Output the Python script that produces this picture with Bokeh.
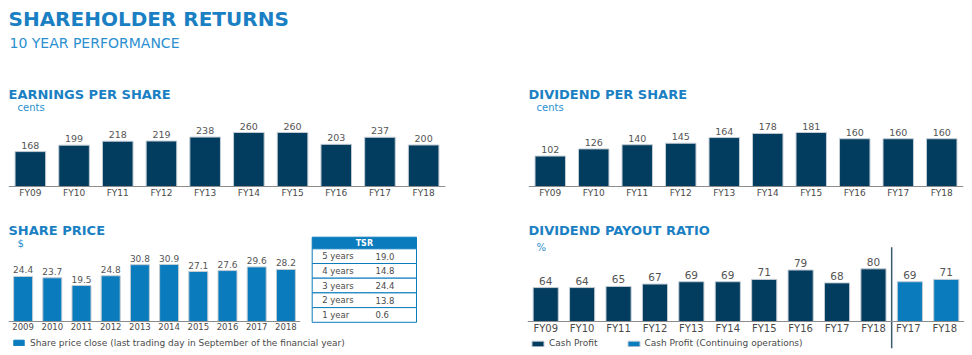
from bokeh.plotting import figure
from bokeh.models import ColumnDataSource, Range1d, FactorRange, LabelSet, Label, Legend, LegendItem
from bokeh.layouts import row, column
from bokeh.embed import file_html
from bokeh.resources import INLINE
from bokeh.core.properties import value

# ---------------- data ----------------
fy_years = ["FY09", "FY10", "FY11", "FY12", "FY13", "FY14", "FY15", "FY16", "FY17", "FY18"]
eps_cents = [168, 199, 218, 219, 238, 260, 260, 203, 237, 200]
dps_cents = [102, 126, 140, 145, 164, 178, 181, 160, 160, 160]
price_years = ["2009", "2010", "2011", "2012", "2013", "2014", "2015", "2016", "2017", "2018"]
share_price = [24.4, 23.7, 19.5, 24.8, 30.8, 30.9, 27.1, 27.6, 29.6, 28.2]
tsr_periods = ["5 years", "4 years", "3 years", "2 years", "1 year"]
tsr_values = [19.0, 14.8, 24.4, 13.8, 0.6]
payout_cash = [64, 64, 65, 67, 69, 69, 71, 79, 68, 80]
cont_years = ["FY17", "FY18"]
payout_cont = [69, 71]

# ---------------- style ----------------
FONT = "DejaVu Sans"
NAVY = "#023d60"
BLUE = "#0a7bbd"
TITLE_BLUE = "#1a7fc3"
SUB_BLUE = "#2b8fd0"
TEXT_GRAY = "#4a4a4a"
VALUE_GRAY = "#555555"
AXIS_GRAY = "#8c8c8c"
OUTLINE = "#c3ccd4"
SEP = "#3d5a6e"


def make_fig(w, h, x_range, y_range, ml=0, mr=0, xaxis=False):
    p = figure(width=w, height=h, x_range=x_range, y_range=y_range,
               output_backend="svg", toolbar_location=None, title=None,
               x_axis_location="below" if xaxis else None, y_axis_location=None,
               min_border=0, min_border_left=ml, min_border_right=mr,
               min_border_top=0, min_border_bottom=0)
    p.outline_line_color = None
    p.xgrid.grid_line_color = None
    p.ygrid.grid_line_color = None
    p.background_fill_color = "white"
    p.border_fill_color = "white"
    return p


def add_text(p, text, sx, sy, size, color, bold=False, align="left"):
    p.add_layout(Label(x=sx, y=sy, x_units="screen", y_units="screen", text=text,
                       text_font=FONT, text_font_size=f"{size}px", text_color=color,
                       text_font_style="bold" if bold else "normal",
                       text_align=align, text_baseline="alphabetic"))


def style_axis(p, base_value, size):
    ax = p.xaxis[0]
    ax.fixed_location = base_value
    ax.axis_line_color = AXIS_GRAY
    ax.axis_line_width = 1
    ax.major_tick_line_color = None
    ax.minor_tick_line_color = None
    ax.major_tick_in = 0
    ax.major_tick_out = 0
    ax.major_label_standoff = 1
    ax.major_label_text_font = FONT
    ax.major_label_text_font_size = f"{size}px"
    ax.major_label_text_color = TEXT_GRAY


def value_labels(p, src, size):
    p.add_layout(LabelSet(x="x", y="top", text="label", source=src, y_offset=3,
                          text_align="center", text_baseline="alphabetic",
                          text_font=value(FONT), text_font_size=f"{size}px",
                          text_color=VALUE_GRAY))


def bar_panel(w, h, factors, values, labels, color, ml, mr, px_per_unit, base_px,
              base_value, tick_size, value_size, width=0.7):
    yr = Range1d(base_value - base_px / px_per_unit, base_value + (h - base_px) / px_per_unit)
    p = make_fig(w, h, FactorRange(factors=factors), yr, ml, mr, xaxis=True)
    src = ColumnDataSource(dict(x=factors, top=values, label=labels))
    r = p.vbar(x="x", top="top", bottom=base_value, width=width, source=src,
               fill_color=color, line_color=OUTLINE, line_width=1)
    value_labels(p, src, value_size)
    style_axis(p, base_value, tick_size)
    return p, r


# ---------------- header ----------------
header = make_fig(972, 78, Range1d(0, 972), Range1d(0, 78))
add_text(header, "SHAREHOLDER RETURNS", 8, 60, 20, TITLE_BLUE, bold=True)
add_text(header, "10 YEAR PERFORMANCE", 9, 35.5, 14, SUB_BLUE)

# ---------------- EPS ----------------
eps_fig, _ = bar_panel(520, 122, fy_years, eps_cents, [str(v) for v in eps_cents], NAVY,
                       8, 75, 54 / 260, 14, 0, 9, 9.5)
add_text(eps_fig, "EARNINGS PER SHARE", 0, 106, 13, TITLE_BLUE, bold=True)
add_text(eps_fig, "cents", 9, 93, 10, SUB_BLUE)

# ---------------- DPS ----------------
dps_fig, _ = bar_panel(452, 122, fy_years, dps_cents, [str(v) for v in dps_cents], NAVY,
                       8, 9, 54 / 181, 14, 0, 9, 9.5)
add_text(dps_fig, "DIVIDEND PER SHARE", 0, 106, 13, TITLE_BLUE, bold=True)
add_text(dps_fig, "cents", 8, 93, 10, SUB_BLUE)

# ---------------- Share price ----------------
sp_fig, sp_r = bar_panel(305, 134, price_years, share_price, [f"{v:.1f}" for v in share_price],
                         BLUE, 8, 5, 57 / 30.9, 13, 0, 8.5, 9, width=0.65)
add_text(sp_fig, "SHARE PRICE", 0, 104, 13, TITLE_BLUE, bold=True)
add_text(sp_fig, "$", 9, 91.5, 10, SUB_BLUE)

# legend strip under share price (hidden swatch renderer only feeds the legend)
sp_leg = make_fig(520, 21, Range1d(0, 1), Range1d(0, 1))
swatch = sp_leg.vbar(x=[0.5], top=[0.5], width=0.65, fill_color=BLUE, line_color=BLUE)
swatch.visible = False
leg1 = Legend(items=[LegendItem(label="Share price close (last trading day in September of the financial year)",
                                renderers=[swatch])],
              location=(12, 7.5), orientation="horizontal", glyph_width=13, glyph_height=7,
              label_height=7, label_width=10, label_standoff=5, padding=0, margin=0, spacing=0,
              border_line_color=None, background_fill_alpha=0,
              inactive_fill_alpha=0,
              label_text_font=FONT, label_text_font_size="9px", label_text_color=TEXT_GRAY)
sp_leg.add_layout(leg1)

# ---------------- TSR table ----------------
tsr_fig = make_fig(215, 134, Range1d(0, 215), Range1d(0, 134))
tbl_left, tbl_right = 6.7, 111.0
hdr_top, hdr_h, row_h = 97.3, 11.6, 14.7
n_rows = len(tsr_periods)
row_tops = [hdr_top - hdr_h - i * row_h for i in range(n_rows)]
row_bots = [t - row_h for t in row_tops]
row_mid = [t - row_h / 2 for t in row_tops]
tsr_fig.quad(left=[tbl_left], right=[tbl_right], top=[hdr_top], bottom=[hdr_top - hdr_h],
             fill_color=BLUE, line_color=BLUE, line_width=1)
tsr_fig.quad(left=[tbl_left] * n_rows, right=[tbl_right] * n_rows, top=row_tops, bottom=row_bots,
             fill_color="white", line_color=BLUE, line_width=1)
tsr_fig.text(x=[(tbl_left + tbl_right) / 2], y=[hdr_top - hdr_h / 2], text=["TSR"],
             text_font=value(FONT), text_font_size="8px", text_font_style="bold",
             text_color="white", text_align="center", text_baseline="middle")
tsr_fig.text(x=[tbl_left + 10] * n_rows, y=row_mid, text=tsr_periods,
             text_font=value(FONT), text_font_size="8.5px", text_color=TEXT_GRAY,
             text_align="left", text_baseline="middle")
tsr_fig.text(x=[tbl_left + 63.3] * n_rows, y=row_mid, text=[f"{v:.1f}" for v in tsr_values],
             text_font=value(FONT), text_font_size="8.5px", text_color=TEXT_GRAY,
             text_align="left", text_baseline="middle")

# ---------------- Payout ratio ----------------
PO_K = 1.17          # px per percentage point
PO_BASE = 35         # value at the axis line
PO_BASE_PX = 34      # axis line height above figure bottom
PO_H = 155
cont_factors = [y + " " for y in cont_years]
po_factors = fy_years + cont_factors
po_yr = Range1d(PO_BASE - PO_BASE_PX / PO_K, PO_BASE + (PO_H - PO_BASE_PX) / PO_K)
po_fig = make_fig(452, PO_H, FactorRange(factors=po_factors), po_yr, 7, 8, xaxis=True)
src_cash = ColumnDataSource(dict(x=fy_years, top=payout_cash, label=[str(v) for v in payout_cash]))
src_cont = ColumnDataSource(dict(x=cont_factors, top=payout_cont, label=[str(v) for v in payout_cont]))
r_cash = po_fig.vbar(x="x", top="top", bottom=PO_BASE, width=0.69, source=src_cash,
                     fill_color=NAVY, line_color=OUTLINE, line_width=1)
r_cont = po_fig.vbar(x="x", top="top", bottom=PO_BASE, width=0.69, source=src_cont,
                     fill_color=BLUE, line_color=OUTLINE, line_width=1)
value_labels(po_fig, src_cash, 10.5)
value_labels(po_fig, src_cont, 10.5)
style_axis(po_fig, PO_BASE, 10)
sep_x = len(payout_cash)
po_fig.segment(x0=[sep_x], x1=[sep_x],
               y0=[PO_BASE - 26.7 / PO_K], y1=[PO_BASE + 74.3 / PO_K],
               line_color=SEP, line_width=1.5)
add_text(po_fig, "DIVIDEND PAYOUT RATIO", 1, 125, 13, TITLE_BLUE, bold=True)
add_text(po_fig, "%", 9, 108, 10, SUB_BLUE)
leg2 = Legend(items=[LegendItem(label="Cash Profit", renderers=[r_cash]),
                     LegendItem(label="Cash Profit (Continuing operations)", renderers=[r_cont])],
              location=(3, 7), orientation="horizontal", glyph_width=15, glyph_height=7,
              label_height=7, label_width=10, label_standoff=4, padding=0, margin=0, spacing=28,
              border_line_color=None, background_fill_alpha=0,
              label_text_font=FONT, label_text_font_size="9px", label_text_color=TEXT_GRAY)
po_fig.add_layout(leg2)

layout = column(header,
                row(eps_fig, dps_fig),
                row(column(row(sp_fig, tsr_fig), sp_leg), po_fig))

open("out.html", "w").write(file_html(layout, INLINE))
